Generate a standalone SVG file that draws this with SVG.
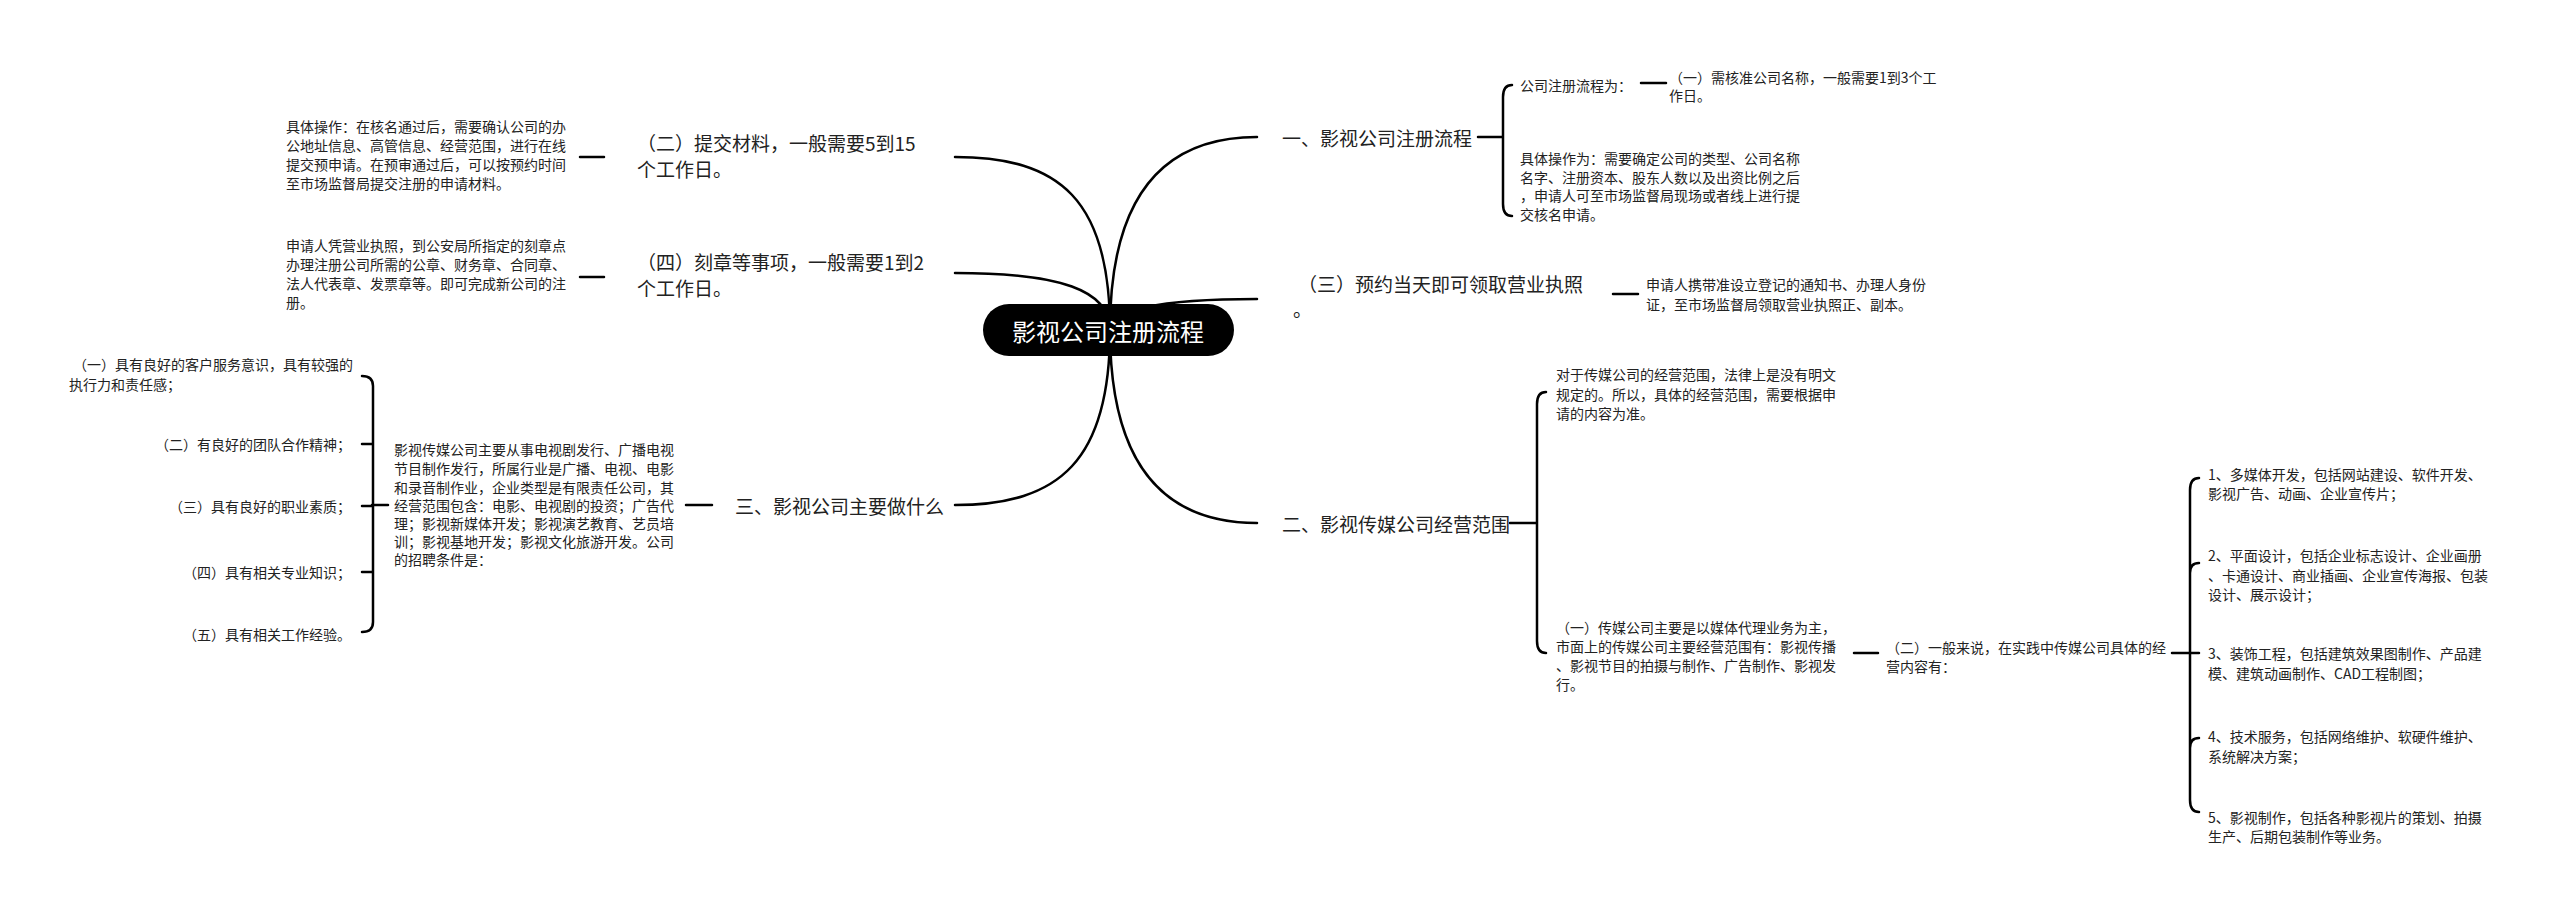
<svg xmlns="http://www.w3.org/2000/svg" width="2560" height="913" viewBox="0 0 2560 913">
<style>
text{font-family:"Noto Sans CJK SC","Noto Sans",sans-serif;fill:#222;dominant-baseline:central}
.leaf{font-size:14px}
.topic{font-size:19px}
.c{fill:none;stroke:#000;stroke-width:2.5;stroke-linecap:round}
.r{text-anchor:end}
</style>
<rect width="2560" height="913" fill="#fff"/>
<g id="connectors">
<path class="c" d="M1110 330 C1110 200 1060 157 955 157"/>
<path class="c" d="M1110 330 C1110 290 1060 273 955 273"/>
<path class="c" d="M1110 330 C1110 460 1060 505 955 505"/>
<path class="c" d="M1110 330 C1110 200 1160 137 1257 137"/>
<path class="c" d="M1110 330 C1110 310 1160 299 1257 299"/>
<path class="c" d="M1110 330 C1110 460 1160 523 1257 523"/>
<path class="c" d="M580 157H604M580 277H604M686 505H712M372 505H388"/>
<path class="c" d="M362 376Q373 376 373 386V622Q373 632 362 632M362 444H373M362 506H373M362 572H373"/>
<path class="c" d="M1478 137H1503M1512 85Q1503 85 1503 97V204Q1503 216 1512 216M1641 83H1666"/>
<path class="c" d="M1613 294H1638"/>
<path class="c" d="M1510 523H1537M1546 392Q1537 392 1537 404V641Q1537 653 1546 653M1854 653H1878"/>
<path class="c" d="M2172 653H2190M2199 478Q2190 478 2190 490V800Q2190 812 2199 812M2199 563Q2190 563 2190 573M2190 653H2199M2199 738Q2190 738 2190 748"/>
</g>
<g id="center"><rect x="983" y="304" width="251" height="52" rx="26" fill="#000"/><text x="1108" y="330" font-size="24" text-anchor="middle" style="fill:#fff">影视公司注册流程</text></g>
<g id="L1"><text class="topic" x="637" y="142">（二）提交材料，一般需要5到15</text><text class="topic" x="637" y="168">个工作日。</text></g>
<g id="L1a"><text class="leaf" x="286" y="126">具体操作：在核名通过后，需要确认公司的办</text><text class="leaf" x="286" y="145">公地址信息、高管信息、经营范围，进行在线</text><text class="leaf" x="286" y="164">提交预申请。在预审通过后，可以按预约时间</text><text class="leaf" x="286" y="183">至市场监督局提交注册的申请材料。</text></g>
<g id="L2"><text class="topic" x="637" y="261">（四）刻章等事项，一般需要1到2</text><text class="topic" x="637" y="287">个工作日。</text></g>
<g id="L2a"><text class="leaf" x="286" y="245">申请人凭营业执照，到公安局所指定的刻章点</text><text class="leaf" x="286" y="264">办理注册公司所需的公章、财务章、合同章、</text><text class="leaf" x="286" y="283">法人代表章、发票章等。即可完成新公司的注</text><text class="leaf" x="286" y="302">册。</text></g>
<g id="L3"><text class="topic" x="735" y="505">三、影视公司主要做什么</text></g>
<g id="L3a"><text class="leaf" x="394" y="449">影视传媒公司主要从事电视剧发行、广播电视</text><text class="leaf" x="394" y="468">节目制作发行，所属行业是广播、电视、电影</text><text class="leaf" x="394" y="487">和录音制作业，企业类型是有限责任公司，其</text><text class="leaf" x="394" y="505">经营范围包含：电影、电视剧的投资；广告代</text><text class="leaf" x="394" y="523">理；影视新媒体开发；影视演艺教育、艺员培</text><text class="leaf" x="394" y="541">训；影视基地开发；影视文化旅游开发。公司</text><text class="leaf" x="394" y="559">的招聘条件是：</text></g>
<g id="L3b"><text class="leaf" x="73" y="364">（一）具有良好的客户服务意识，具有较强的</text><text class="leaf" x="69" y="384">执行力和责任感；</text></g>
<g id="L3c"><text class="leaf r" x="351" y="444">（二）有良好的团队合作精神；</text></g>
<g id="L3d"><text class="leaf r" x="351" y="506">（三）具有良好的职业素质；</text></g>
<g id="L3e"><text class="leaf r" x="351" y="572">（四）具有相关专业知识；</text></g>
<g id="L3f"><text class="leaf r" x="351" y="634">（五）具有相关工作经验。</text></g>
<g id="R1"><text class="topic" x="1282" y="137">一、影视公司注册流程</text></g>
<g id="R1a"><text class="leaf" x="1520" y="85">公司注册流程为：</text></g>
<g id="R1b"><text class="leaf" x="1669" y="77">（一）需核准公司名称，一般需要1到3个工</text><text class="leaf" x="1669" y="95">作日。</text></g>
<g id="R1c"><text class="leaf" x="1520" y="158">具体操作为：需要确定公司的类型、公司名称</text><text class="leaf" x="1520" y="177">名字、注册资本、股东人数以及出资比例之后</text><text class="leaf" x="1520" y="195">，申请人可至市场监督局现场或者线上进行提</text><text class="leaf" x="1520" y="214">交核名申请。</text></g>
<g id="R2"><text class="topic" x="1298" y="283">（三）预约当天即可领取营业执照</text><text class="topic" x="1293" y="308">。</text></g>
<g id="R2a"><text class="leaf" x="1646" y="284">申请人携带准设立登记的通知书、办理人身份</text><text class="leaf" x="1646" y="304">证，至市场监督局领取营业执照正、副本。</text></g>
<g id="R3"><text class="topic" x="1282" y="523">二、影视传媒公司经营范围</text></g>
<g id="R3a"><text class="leaf" x="1556" y="374">对于传媒公司的经营范围，法律上是没有明文</text><text class="leaf" x="1556" y="394">规定的。所以，具体的经营范围，需要根据申</text><text class="leaf" x="1556" y="413">请的内容为准。</text></g>
<g id="R3b"><text class="leaf" x="1556" y="627">（一）传媒公司主要是以媒体代理业务为主，</text><text class="leaf" x="1556" y="646">市面上的传媒公司主要经营范围有：影视传播</text><text class="leaf" x="1556" y="665">、影视节目的拍摄与制作、广告制作、影视发</text><text class="leaf" x="1556" y="684">行。</text></g>
<g id="R3c"><text class="leaf" x="1886" y="647">（二）一般来说，在实践中传媒公司具体的经</text><text class="leaf" x="1886" y="666">营内容有：</text></g>
<g id="R3c1"><text class="leaf" x="2208" y="474">1、多媒体开发，包括网站建设、软件开发、</text><text class="leaf" x="2208" y="493">影视广告、动画、企业宣传片；</text></g>
<g id="R3c2"><text class="leaf" x="2208" y="555">2、平面设计，包括企业标志设计、企业画册</text><text class="leaf" x="2208" y="575">、卡通设计、商业插画、企业宣传海报、包装</text><text class="leaf" x="2208" y="594">设计、展示设计；</text></g>
<g id="R3c3"><text class="leaf" x="2208" y="653">3、装饰工程，包括建筑效果图制作、产品建</text><text class="leaf" x="2208" y="673">模、建筑动画制作、CAD工程制图；</text></g>
<g id="R3c4"><text class="leaf" x="2208" y="736">4、技术服务，包括网络维护、软硬件维护、</text><text class="leaf" x="2208" y="756">系统解决方案；</text></g>
<g id="R3c5"><text class="leaf" x="2208" y="817">5、影视制作，包括各种影视片的策划、拍摄</text><text class="leaf" x="2208" y="836">生产、后期包装制作等业务。</text></g>
</svg>
